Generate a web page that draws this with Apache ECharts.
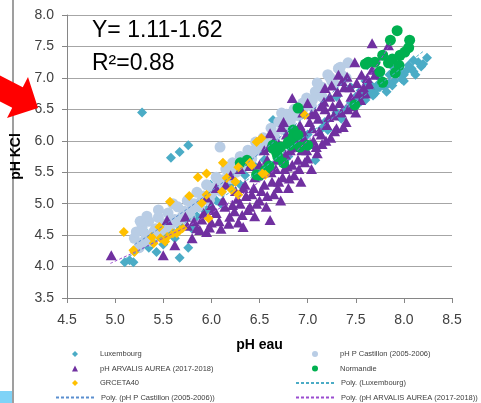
<!DOCTYPE html>
<html>
<head>
<meta charset="utf-8">
<script src="https://cdn.jsdelivr.net/npm/echarts@6/dist/echarts.min.js"></script>
<style>
  html, body { margin: 0; padding: 0; background: #fff; }
  #chart { width: 481px; height: 403px; }
</style>
</head>
<body>
<div id="chart"></div>
<script>
// points [pH eau, pH KCl]
const luxembourg = [
  [5.28, 6.45], [5.58, 5.73], [5.67, 5.82], [5.76, 5.93], [5.1, 4.07], [5.19, 4.07], [5.15, 4.1],
  [5.29, 4.58], [5.35, 4.3], [5.43, 4.23], [5.5, 4.35], [5.62, 4.45], [5.67, 4.14], [5.76, 4.3],
  [5.8, 4.6], [5.85, 4.8], [5.95, 4.9], [5.99, 5.3], [6.05, 5.05], [6.1, 5.0], [6.2, 5.3], [6.3, 5.3],
  [6.35, 5.45], [6.45, 5.6], [6.55, 5.7], [6.64, 6.33], [6.7, 5.9], [6.8, 5.75], [6.9, 6.0], [7.0, 6.1],
  [7.08, 5.69], [7.15, 6.2], [7.18, 6.3], [7.21, 6.17], [7.3, 6.45], [7.3, 6.7], [7.35, 6.35], [7.45, 6.6],
  [7.5, 6.7], [7.55, 6.8], [7.6, 6.65], [7.62, 7.2], [7.65, 6.9], [7.7, 6.8], [7.75, 7.0], [7.8, 6.85],
  [7.85, 7.05], [7.9, 6.95], [7.95, 7.15], [8.0, 7.05], [8.05, 7.2], [8.1, 7.1], [8.15, 7.25], [8.24, 7.32],
  [7.9, 7.15], [7.7, 6.75], [7.6, 6.95], [7.45, 6.85], [7.4, 6.5], [8.0, 6.95], [7.55, 6.62], [8.1, 7.28],
  [7.52, 6.62], [7.58, 6.72], [7.63, 6.78], [7.68, 6.72], [7.72, 6.88], [7.78, 6.95], [7.82, 6.78], [7.88, 6.88],
  [7.92, 7.05], [7.98, 6.98], [8.03, 7.12], [8.08, 7.15], [8.12, 7.05], [8.18, 7.18], [8.2, 7.22], [7.85, 6.92],
  [7.75, 6.85], [7.95, 7.08]
]
const castillon = [
  [5.2, 4.45], [5.25, 4.3], [5.28, 4.62], [5.32, 4.5], [5.35, 4.72], [5.38, 4.4], [5.42, 4.6], [5.45, 4.78],
  [5.48, 4.5], [5.52, 4.68], [5.55, 4.85], [5.58, 4.55], [5.62, 4.75], [5.65, 4.95], [5.68, 4.65], [5.72, 4.88],
  [5.75, 5.05], [5.78, 4.8], [5.82, 5.0], [5.85, 5.18], [5.88, 4.95], [5.92, 5.12], [5.95, 5.3], [5.98, 5.05],
  [6.02, 5.25], [6.05, 5.42], [6.09, 5.9], [6.1, 5.2], [6.12, 5.38], [6.15, 5.55], [6.2, 5.4], [6.22, 5.65],
  [6.26, 5.5], [6.3, 5.75], [6.34, 5.6], [6.38, 5.85], [6.42, 5.72], [6.46, 5.98], [6.5, 5.85], [6.54, 6.05],
  [6.58, 5.95], [6.62, 6.2], [6.66, 6.05], [6.7, 6.3], [6.73, 6.44], [6.74, 6.18], [6.78, 6.42], [6.82, 6.3],
  [6.86, 6.5], [6.9, 6.4], [6.95, 6.6], [6.99, 6.68], [7.04, 6.55], [7.08, 6.78], [7.1, 6.92], [7.15, 6.7],
  [7.21, 7.05], [7.23, 7.01], [7.28, 6.9], [7.32, 7.15], [7.34, 7.17], [7.42, 7.24], [7.4, 7.0],
  [5.3, 4.4], [5.4, 4.55], [5.5, 4.62], [5.6, 4.7], [5.7, 4.8], [5.8, 4.92], [5.9, 5.05], [6.0, 5.15],
  [6.08, 5.3], [6.18, 5.5], [6.28, 5.62], [6.36, 5.72], [6.45, 5.85], [6.55, 5.92], [6.65, 6.1], [6.75, 6.25],
  [6.85, 6.4], [6.95, 6.5], [7.05, 6.65], [7.15, 6.85], [7.25, 6.95], [7.35, 7.05], [5.22, 4.55], [5.26, 4.72],
  [5.33, 4.8], [5.45, 4.9], [5.6, 5.0]
]
const arvalis = [
  [4.96, 4.18], [5.5, 4.18], [5.54, 4.74], [5.62, 4.34], [5.73, 4.79], [5.85, 4.61], [5.8, 4.45], [5.9, 4.75],
  [5.95, 4.55], [6.0, 4.98], [6.0, 4.7], [6.05, 4.85], [6.1, 4.6], [6.12, 5.05], [6.19, 4.79], [6.22, 4.98],
  [6.25, 5.2], [6.28, 4.7], [6.3, 5.0], [6.33, 4.63], [6.35, 5.3], [6.38, 4.9], [6.42, 5.15], [6.45, 4.8],
  [6.48, 5.45], [6.5, 5.05], [6.5, 5.62], [6.55, 5.3], [6.57, 4.95], [6.61, 4.74], [6.61, 6.12], [6.62, 5.5],
  [6.65, 5.15], [6.68, 5.7], [6.7, 5.35], [6.72, 5.05], [6.73, 6.22], [6.76, 5.55], [6.79, 5.59], [6.8, 5.25],
  [6.82, 5.85], [6.84, 6.68], [6.86, 5.45], [6.88, 6.0], [6.9, 5.7], [6.93, 5.35], [6.95, 6.15], [6.97, 5.66],
  [6.99, 5.85], [7.02, 6.3], [7.04, 5.55], [7.06, 6.0], [7.08, 6.44], [7.1, 5.8], [7.12, 6.15], [7.15, 5.95],
  [7.18, 6.84], [7.18, 6.5], [7.2, 6.25], [7.23, 6.7], [7.24, 6.05], [7.27, 6.4], [7.3, 6.2], [7.32, 7.05],
  [7.33, 6.6], [7.37, 6.22], [7.38, 6.85], [7.41, 7.02], [7.42, 6.5], [7.45, 6.7], [7.49, 7.25], [7.5, 6.45],
  [7.51, 6.92], [7.55, 6.65], [7.58, 6.85], [7.62, 7.0], [7.67, 7.13], [7.67, 7.55], [7.84, 7.52], [6.4, 5.6],
  [6.2, 5.45], [6.05, 5.25], [5.95, 5.1], [6.55, 5.85], [6.65, 6.0], [6.75, 6.3], [6.95, 6.45], [7.0, 6.6],
  [6.15, 5.3], [6.3, 5.55],
  [5.75, 4.65], [5.82, 4.72], [5.88, 4.58], [5.92, 4.85], [5.98, 4.62], [6.02, 4.9], [6.08, 4.72], [6.14, 4.95],
  [6.18, 4.68], [6.24, 4.88], [6.27, 5.08], [6.32, 4.82], [6.36, 5.12], [6.4, 4.95], [6.44, 5.25], [6.47, 5.0],
  [6.52, 5.2], [6.54, 5.5], [6.58, 5.12], [6.63, 5.35], [6.67, 5.55], [6.69, 5.25], [6.74, 5.42], [6.77, 5.78],
  [6.81, 5.4], [6.84, 5.62], [6.87, 5.9], [6.91, 5.55], [6.94, 5.85], [6.96, 6.05], [7.0, 5.72], [7.03, 5.95],
  [7.05, 6.2], [7.09, 5.9], [7.11, 6.35], [7.14, 6.1], [7.17, 6.62], [7.19, 6.0], [7.22, 6.38], [7.26, 6.55],
  [7.28, 6.15], [7.31, 6.78], [7.35, 6.45], [7.36, 6.95], [7.4, 6.3], [7.44, 6.85], [7.47, 6.55], [7.53, 6.75],
  [7.56, 7.05], [7.6, 6.75], [7.64, 6.9], [7.7, 7.05], [6.58, 5.7], [6.45, 5.42], [6.33, 5.25], [6.6, 5.9],
  [6.7, 5.95], [6.78, 6.1], [6.92, 6.25], [7.04, 6.42], [7.14, 6.55], [7.25, 6.88]
]
const normandie = [
  [6.3, 5.65], [6.37, 5.69], [6.47, 5.46], [6.5, 5.45], [6.56, 5.53], [6.6, 5.6], [6.64, 5.88], [6.64, 5.93],
  [6.68, 5.8], [6.69, 5.75], [6.72, 5.9], [6.75, 5.65], [6.8, 5.98], [6.82, 5.93], [6.85, 6.17], [6.85, 6.06],
  [6.9, 6.09], [6.92, 5.9], [7.0, 5.93], [6.9, 6.52], [7.49, 6.57], [7.6, 7.22], [7.63, 7.25], [7.7, 7.25],
  [7.75, 7.1], [7.78, 7.36], [7.78, 6.93], [7.84, 7.24], [7.88, 7.3], [7.91, 7.08], [7.95, 7.2], [7.96, 7.36],
  [8.01, 7.41], [8.05, 7.48], [7.86, 7.6], [7.93, 7.75], [8.06, 7.6]
]
const grceta = [
  [5.09, 4.55], [5.2, 4.23], [5.19, 4.26], [5.38, 4.47], [5.4, 4.37], [5.46, 4.63], [5.47, 4.45], [5.52, 4.4],
  [5.54, 4.47], [5.57, 5.03], [5.6, 4.53], [5.64, 4.53], [5.67, 4.58], [5.7, 4.61], [5.77, 5.12], [5.86, 5.42],
  [5.9, 5.01], [5.95, 5.48], [5.95, 5.14], [5.97, 4.77], [6.11, 5.19], [6.12, 5.65], [6.16, 5.41], [6.21, 5.22],
  [6.25, 5.35], [6.28, 5.58], [6.28, 5.14], [6.4, 5.65], [6.42, 5.61], [6.47, 5.98], [6.52, 6.04], [6.53, 5.48],
  [6.56, 5.46], [6.97, 6.41]
]
// trendlines
const polyLuxembourg = [[5.1, 4.12], [5.5, 4.48], [6.0, 4.98], [6.5, 5.52], [7.0, 6.1], [7.5, 6.62], [8.2, 7.42]]
const polyCastillon = [[5.2, 4.35], [5.5, 4.65], [6.0, 5.2], [6.5, 5.8], [7.0, 6.42], [7.42, 7.0]]
const polyArvalis = [[4.95, 4.05], [5.5, 4.45], [6.0, 4.85], [6.5, 5.35], [7.0, 6.0], [7.5, 6.75], [7.86, 7.55]]

const names = [
  'Luxembourg',
  'pH P Castillon (2005-2006)',
  'pH ARVALIS AUREA (2017-2018)',
  'Normandie',
  'GRCETA40',
  'Poly. (Luxembourg)',
  'Poly. (pH P Castillon (2005-2006))',
  'Poly. (pH ARVALIS AUREA (2017-2018))'
]
const equation = ['Y= 1.11-1.62', 'R²=0.88']

const chart = echarts.init(document.getElementById('chart'))

// legend rows are 14.5px apart, two columns
const rowTop = [349, 363.5, 378, 392.5]

// marker entries: small square box, text pushed to line up with the line entries
function markLegend(left, top, data) {
  return {
    orient: 'vertical',
    left: left,
    top: top,
    padding: 0,
    itemWidth: 6,
    itemHeight: 6,
    itemGap: 4.5,
    data: data,
    textStyle: { fontSize: 7.5, lineHeight: 10, color: '#404040', padding: [0, 0, 0, 17] }
  }
}

// trendline entries: dashed line only, no dot
function lineLegend(left, top, data) {
  return {
    orient: 'vertical',
    left: left,
    top: top,
    padding: 0,
    itemWidth: 40,
    itemHeight: 6,
    itemGap: 4.5,
    data: data.map(n => ({ name: n, itemStyle: { color: 'rgba(0,0,0,0)', borderWidth: 0, opacity: 0 } })),
    textStyle: { fontSize: 7.5, lineHeight: 10, color: '#404040' }
  }
}

function dots(name, data, symbol, size, color) {
  return {
    name: name,
    type: 'scatter',
    data: data,
    symbol: symbol,
    symbolSize: size,
    itemStyle: { color: color, opacity: 1 }
  }
}

function trend(name, data, color) {
  return {
    name: name,
    type: 'line',
    data: data,
    smooth: true,
    showSymbol: false,
    symbol: 'none',
    z: 5,
    lineStyle: { color: color, width: 1, type: [3, 2] },
    itemStyle: { color: color }
  }
}

const op = {
  animation: false,
  textStyle: { fontFamily: 'Liberation Sans' },
  grid: {
    left: 67,
    right: 29,
    top: 15,
    bottom: 105
  },
  legend: [
    markLegend(72, rowTop[0], [names[0], names[2], names[4]]),
    lineLegend(55, rowTop[3], [names[6]]),
    markLegend(312, rowTop[0], [names[1], names[3]]),
    lineLegend(295, rowTop[2], [names[5], names[7]])
  ],
  xAxis: {
    type: 'value',
    min: 4.5,
    max: 8.5,
    interval: 0.5,
    name: 'pH eau',
    nameLocation: 'middle',
    nameGap: 40,
    nameTextStyle: { fontSize: 14, fontWeight: 'bold', color: '#000' },
    axisLine: { onZero: false, lineStyle: { color: '#868686' } },
    axisTick: { show: true, length: 5, lineStyle: { color: '#868686' } },
    axisLabel: {
      margin: 15,
      fontSize: 14,
      color: '#404040',
      formatter: v => v.toFixed(1)
    },
    splitLine: { show: false }
  },
  yAxis: {
    type: 'value',
    min: 3.5,
    max: 8,
    interval: 0.5,
    name: 'pH KCl',
    nameLocation: 'middle',
    nameGap: 29,
    nameTextStyle: { fontSize: 14, fontWeight: 'bold', color: '#000' },
    axisLine: { show: true, lineStyle: { color: '#868686' } },
    axisTick: { show: true, length: 5, lineStyle: { color: '#868686' } },
    axisLabel: {
      margin: 13,
      fontSize: 14,
      color: '#404040',
      formatter: v => v.toFixed(1)
    },
    splitLine: { lineStyle: { color: '#a6a6a6' } }
  },
  graphic: [
    // slide edge and decorations around the chart
    { type: 'line', shape: { x1: 13, y1: 0, x2: 13, y2: 403 }, style: { stroke: '#7f7f7f', lineWidth: 1.5 } },
    { type: 'rect', shape: { x: 0, y: 391, width: 12, height: 12 }, style: { fill: '#7fd3f7' } },
    {
      type: 'polygon',
      shape: { points: [[0, 75.6], [22.75, 87.25], [28, 77], [38, 108], [7, 118], [12.25, 107.75], [0, 101.5]] },
      style: { fill: '#ff0000' },
      z: 10
    },
    {
      type: 'text',
      left: 92,
      top: 19,
      style: { text: equation[0], fontSize: 23, fontFamily: 'Liberation Sans', fill: '#000' }
    },
    {
      type: 'text',
      left: 92,
      top: 52,
      style: { text: equation[1], fontSize: 23, fontFamily: 'Liberation Sans', fill: '#000' }
    }
  ],
  series: [
    dots(names[0], luxembourg, 'diamond', 10, '#4bacc6'),
    dots(names[1], castillon, 'circle', 11, '#b9cde5'),
    dots(names[2], arvalis, 'triangle', [11, 10], '#7030a0'),
    dots(names[3], normandie, 'circle', 11, '#00b050'),
    dots(names[4], grceta, 'diamond', 10, '#ffc000'),
    trend(names[5], polyLuxembourg, '#4bacc6'),
    trend(names[6], polyCastillon, '#5b8fd0'),
    trend(names[7], polyArvalis, '#9a4dd0')
  ]
}

chart.setOption(op)
</script>
</body>
</html>
